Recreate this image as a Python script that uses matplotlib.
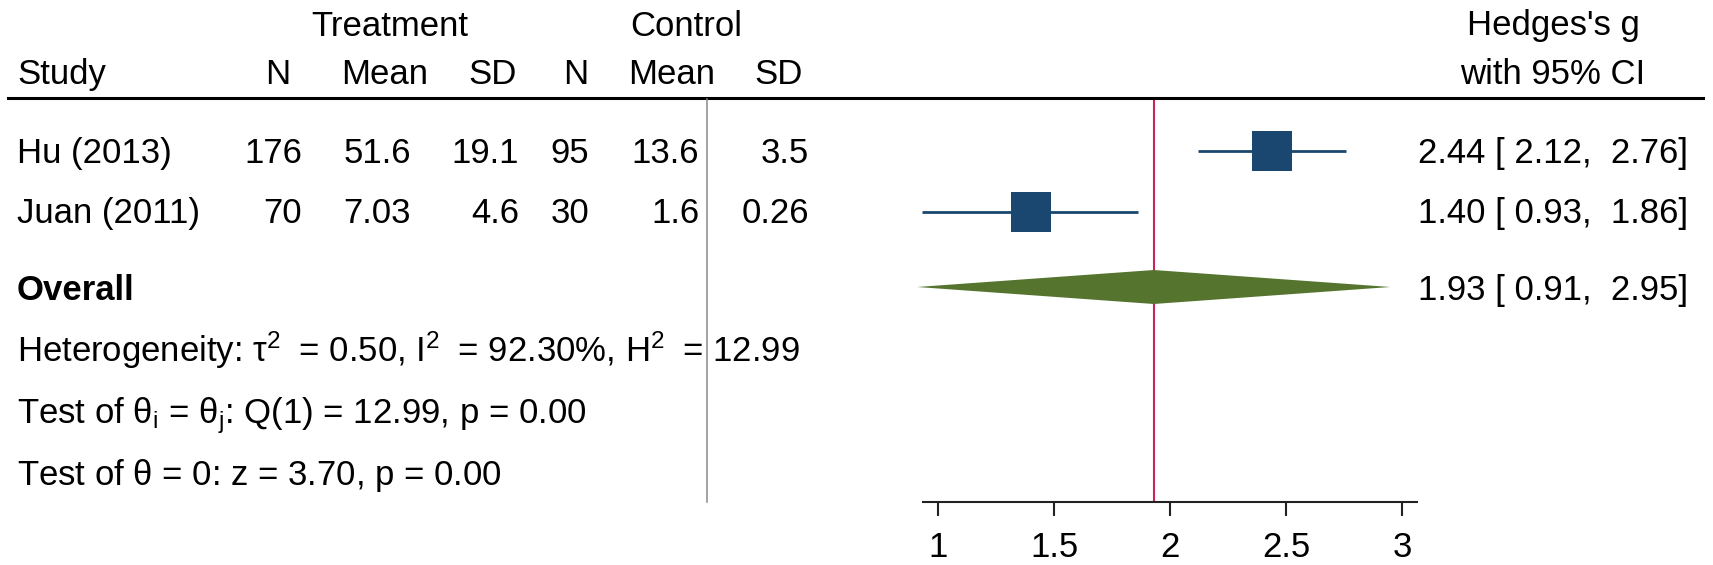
import matplotlib.pyplot as plt
from matplotlib.lines import Line2D

plt.rcParams['font.family'] = ['Liberation Sans', 'DejaVu Sans']
plt.rcParams['mathtext.fontset'] = 'custom'
plt.rcParams['mathtext.rm'] = 'Liberation Sans'
plt.rcParams['mathtext.it'] = 'Liberation Sans:italic'
plt.rcParams['mathtext.bf'] = 'Liberation Sans:bold'

# datos del forest plot
studies = ['Hu (2013)', 'Juan (2011)']
trt_n = [176, 70]
trt_mean = [51.6, 7.03]
trt_sd = [19.1, 4.6]
ctl_n = [95, 30]
ctl_mean = [13.6, 1.6]
ctl_sd = [3.5, 0.26]
g = [2.44, 1.40]
ci_lo = [2.12, 0.93]
ci_hi = [2.76, 1.86]

overall = 1.93
overall_lo = 0.91
overall_hi = 2.95
tau2, i2, h2 = 0.50, 92.30, 12.99
q, q_df, q_p = 12.99, 1, 0.00
z, z_p = 3.70, 0.00

xticks = [1, 1.5, 2, 2.5, 3]

navy = '#1a476f'
green = '#55752f'
red = '#cc2456'

W, H = 1713, 565
FS = 25


def fx(px):
    return px / W


def fy(py):
    return 1 - py / H


fig = plt.figure(figsize=(W / 100, H / 100), dpi=100)


def txt(px, py, s, ha='left', **kw):
    fig.text(fx(px), fy(py), s, ha=ha, va='baseline', fontsize=FS, **kw)


# cabecera
txt(390, 36, 'Treatment', ha='center')
txt(686, 36, 'Control', ha='center')
txt(1553, 35, "Hedges's g", ha='center')
txt(1553, 84, 'with 95% CI', ha='center')

txt(17, 84, 'Study')
head_right = [290, 428, 517, 588, 715, 803]
for s, x in zip(['N', 'Mean', 'SD', 'N', 'Mean', 'SD'], head_right):
    txt(x, 84, s, ha='right')

# filas de estudios
row_base = [163, 223]
col_right = [302, 411, 519, 589, 699, 809]
for i, name in enumerate(studies):
    b = row_base[i]
    txt(17, b, name)
    vals = [trt_n[i], trt_mean[i], trt_sd[i], ctl_n[i], ctl_mean[i], ctl_sd[i]]
    for v, x in zip(vals, col_right):
        txt(x, b, f'{v:g}', ha='right')
    txt(1688, b, f'{g[i]:.2f} [{ci_lo[i]:5.2f}, {ci_hi[i]:5.2f}]', ha='right')

txt(17, 300, 'Overall', fontweight='bold')
txt(1688, 300, f'{overall:.2f} [{overall_lo:5.2f}, {overall_hi:5.2f}]', ha='right')

txt(17, 362, r'Heterogeneity: $\mathregular{\tau^{2}\;}$ = ' + f'{tau2:.2f}, '
    + r'$\mathregular{I^{2}\;}$ = ' + f'{i2:.2f}%, '
    + r'$\mathregular{H^{2}\;}$ = ' + f'{h2:.2f}')
txt(17, 423, r'Test of $\mathregular{\theta_i}$ = $\mathregular{\theta_j}$: '
    + f'Q({q_df}) = {q:.2f}, p = {q_p:.2f}')
txt(17, 485, r'Test of $\mathregular{\theta}$ = 0: ' + f'z = {z:.2f}, p = {z_p:.2f}')

# lineas de la tabla
fig.add_artist(Line2D([fx(8), fx(1703)], [fy(98), fy(98)], color='black', lw=2.2))
fig.add_artist(Line2D([fx(707), fx(707)], [fy(99), fy(502)], color='#8a8a8a', lw=1.1))

# panel del forest plot
ax = fig.add_axes([fx(923), fy(502), (1417 - 923) / W, (502 - 98) / H])
ax.set_xlim(0.935, 3.065)
ax.set_ylim(502, 98)
ax.patch.set_visible(False)
for sp in ['left', 'top', 'right']:
    ax.spines[sp].set_visible(False)
ax.spines['bottom'].set_linewidth(1.5)
ax.spines['bottom'].set_color('#222222')
ax.set_yticks([])
ax.set_xticks(xticks)
ax.set_xticklabels([f'{t:g}' for t in xticks], fontsize=FS)
ax.tick_params(axis='x', length=10, width=1.5, color='#222222', pad=11)

row_y = [151, 212]
overall_y = 287

ax.axvline(overall, color=red, lw=1.5, zorder=1)
for i in range(len(studies)):
    ax.plot([ci_lo[i], ci_hi[i]], [row_y[i], row_y[i]], color=navy, lw=2,
            solid_capstyle='butt', clip_on=False, zorder=2)
    ax.plot(g[i], row_y[i], marker='s', ms=28.8, color=navy, mew=0,
            clip_on=False, zorder=3)

ax.fill([overall_lo, overall, overall_hi, overall],
        [overall_y, overall_y - 17, overall_y, overall_y + 17],
        color=green, lw=0, clip_on=False, zorder=2)

fig.savefig('out.png', dpi=100)
